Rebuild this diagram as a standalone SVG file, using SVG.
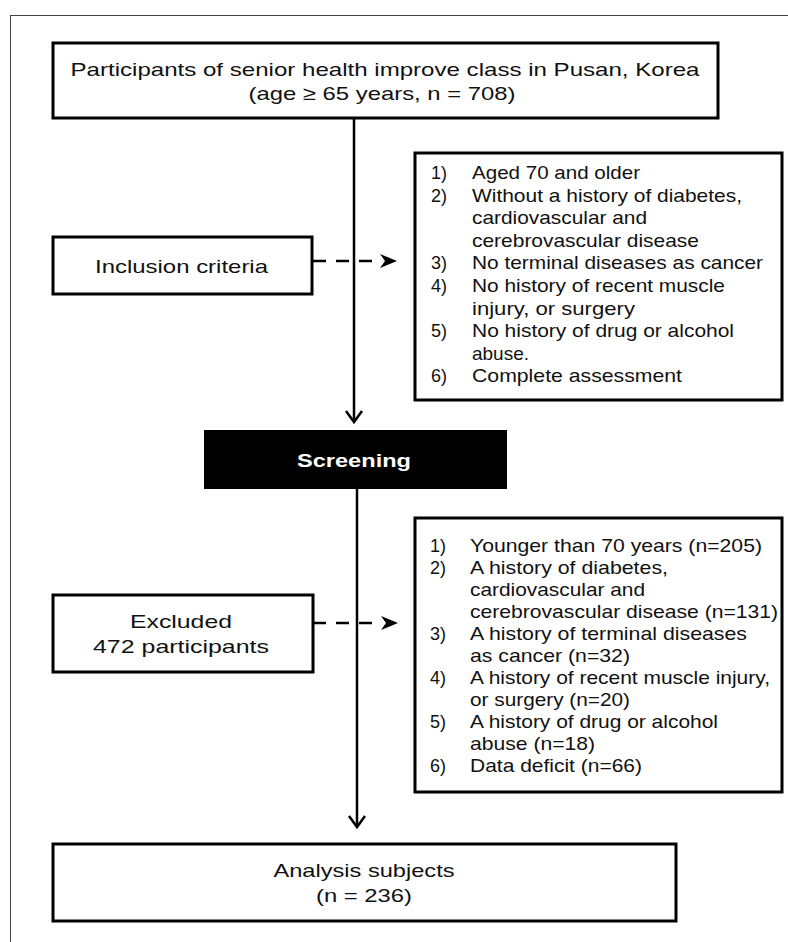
<svg xmlns="http://www.w3.org/2000/svg" width="788" height="942" viewBox="0 0 788 942">
<style>
.box{fill:#fff;stroke:#000;stroke-width:3}
.t{font-family:"Liberation Sans",Arial,sans-serif;fill:#111;font-size:19px}
.c{text-anchor:middle}
.l{font-family:"Liberation Sans",Arial,sans-serif;fill:#111;font-size:18.5px}
.ln{fill:none;stroke:#000;stroke-width:2.5}
.dash{fill:none;stroke:#000;stroke-width:2.5;stroke-dasharray:13 10}
</style>
<rect width="788" height="942" fill="#fff"/>
<rect x="10.5" y="15.5" width="800" height="1000" fill="none" stroke="#444" stroke-width="1"/>

<g id="connectors">
  <line class="ln" x1="354" y1="118" x2="354" y2="421"/>
  <polyline class="ln" points="346,411 354,422 362,411"/>
  <line class="ln" x1="357" y1="489" x2="357" y2="826"/>
  <polyline class="ln" points="349,816 357,827 365,816"/>
  <line class="dash" x1="313" y1="261" x2="381" y2="261"/>
  <path d="M380,254 L397,261 L380,268 L385,261 Z" fill="#000"/>
  <line class="dash" x1="313" y1="623" x2="382" y2="623"/>
  <path d="M381,616 L398,623 L381,630 L386,623 Z" fill="#000"/>
</g>

<g id="participants">
  <rect class="box" x="53" y="43" width="665" height="75"/>
  <text class="t c" x="385" y="76" textLength="629" lengthAdjust="spacingAndGlyphs">Participants of senior health improve class in Pusan, Korea</text>
  <text class="t c" x="382" y="100" textLength="267" lengthAdjust="spacingAndGlyphs">(age ≥ 65 years, n = 708)</text>
</g>

<g id="inclusion">
  <rect class="box" x="53" y="237" width="259" height="57"/>
  <text class="t c" x="181.5" y="273" font-size="20" textLength="173" lengthAdjust="spacingAndGlyphs">Inclusion criteria</text>
</g>

<g id="inclusion-list">
  <rect class="box" x="415" y="153" width="367" height="247"/>
  <g class="l">
    <text x="431" y="179" textLength="16" lengthAdjust="spacingAndGlyphs">1)</text>
    <text x="431" y="201.6" textLength="16" lengthAdjust="spacingAndGlyphs">2)</text>
    <text x="431" y="269.4" textLength="16" lengthAdjust="spacingAndGlyphs">3)</text>
    <text x="431" y="292" textLength="16" lengthAdjust="spacingAndGlyphs">4)</text>
    <text x="431" y="337.2" textLength="16" lengthAdjust="spacingAndGlyphs">5)</text>
    <text x="431" y="382.4" textLength="16" lengthAdjust="spacingAndGlyphs">6)</text>
    <text x="472" y="179" textLength="168" lengthAdjust="spacingAndGlyphs">Aged 70 and older</text>
    <text x="472" y="201.6" textLength="270" lengthAdjust="spacingAndGlyphs">Without a history of diabetes,</text>
    <text x="472" y="224.2" textLength="175" lengthAdjust="spacingAndGlyphs">cardiovascular and</text>
    <text x="472" y="246.8" textLength="227" lengthAdjust="spacingAndGlyphs">cerebrovascular disease</text>
    <text x="472" y="269.4" textLength="291" lengthAdjust="spacingAndGlyphs">No terminal diseases as cancer</text>
    <text x="472" y="292" textLength="253" lengthAdjust="spacingAndGlyphs">No history of recent muscle</text>
    <text x="472" y="314.6" textLength="163" lengthAdjust="spacingAndGlyphs">injury, or surgery</text>
    <text x="472" y="337.2" textLength="262" lengthAdjust="spacingAndGlyphs">No history of drug or alcohol</text>
    <text x="472" y="359.8" textLength="57" lengthAdjust="spacingAndGlyphs">abuse.</text>
    <text x="472" y="382.4" textLength="210" lengthAdjust="spacingAndGlyphs">Complete assessment</text>
  </g>
</g>

<g id="screening">
  <rect x="204" y="430" width="303" height="59" fill="#000"/>
  <text x="354" y="467" text-anchor="middle" font-family="Liberation Sans,Arial,sans-serif" font-weight="bold" font-size="19" fill="#fff" textLength="114" lengthAdjust="spacingAndGlyphs">Screening</text>
</g>

<g id="excluded">
  <rect class="box" x="53" y="595" width="260" height="77"/>
  <text class="t c" x="181" y="628" font-size="20" textLength="102" lengthAdjust="spacingAndGlyphs">Excluded</text>
  <text class="t c" x="181" y="653" font-size="20" textLength="176" lengthAdjust="spacingAndGlyphs">472 participants</text>
</g>

<g id="exclusion-list">
  <rect class="box" x="415" y="518" width="367" height="274"/>
  <g class="l">
    <text x="430" y="552" textLength="16" lengthAdjust="spacingAndGlyphs">1)</text>
    <text x="430" y="574" textLength="16" lengthAdjust="spacingAndGlyphs">2)</text>
    <text x="430" y="640" textLength="16" lengthAdjust="spacingAndGlyphs">3)</text>
    <text x="430" y="684" textLength="16" lengthAdjust="spacingAndGlyphs">4)</text>
    <text x="430" y="728" textLength="16" lengthAdjust="spacingAndGlyphs">5)</text>
    <text x="430" y="772" textLength="16" lengthAdjust="spacingAndGlyphs">6)</text>
    <text x="470" y="552" textLength="292" lengthAdjust="spacingAndGlyphs">Younger than 70 years (n=205)</text>
    <text x="470" y="574" textLength="198" lengthAdjust="spacingAndGlyphs">A history of diabetes,</text>
    <text x="470" y="596" textLength="175" lengthAdjust="spacingAndGlyphs">cardiovascular and</text>
    <text x="470" y="618" textLength="308" lengthAdjust="spacingAndGlyphs">cerebrovascular disease (n=131)</text>
    <text x="470" y="640" textLength="277" lengthAdjust="spacingAndGlyphs">A history of terminal diseases</text>
    <text x="470" y="662" textLength="160" lengthAdjust="spacingAndGlyphs">as cancer (n=32)</text>
    <text x="470" y="684" textLength="300" lengthAdjust="spacingAndGlyphs">A history of recent muscle injury,</text>
    <text x="470" y="706" textLength="160" lengthAdjust="spacingAndGlyphs">or surgery (n=20)</text>
    <text x="470" y="728" textLength="248" lengthAdjust="spacingAndGlyphs">A history of drug or alcohol</text>
    <text x="470" y="750" textLength="125" lengthAdjust="spacingAndGlyphs">abuse (n=18)</text>
    <text x="470" y="772" textLength="172" lengthAdjust="spacingAndGlyphs">Data deficit (n=66)</text>
  </g>
</g>

<g id="analysis">
  <rect class="box" x="53" y="844" width="623" height="77"/>
  <text class="t c" x="364" y="877" font-size="20" textLength="181" lengthAdjust="spacingAndGlyphs">Analysis subjects</text>
  <text class="t c" x="364" y="902" font-size="20" textLength="96" lengthAdjust="spacingAndGlyphs">(n = 236)</text>
</g>
</svg>
